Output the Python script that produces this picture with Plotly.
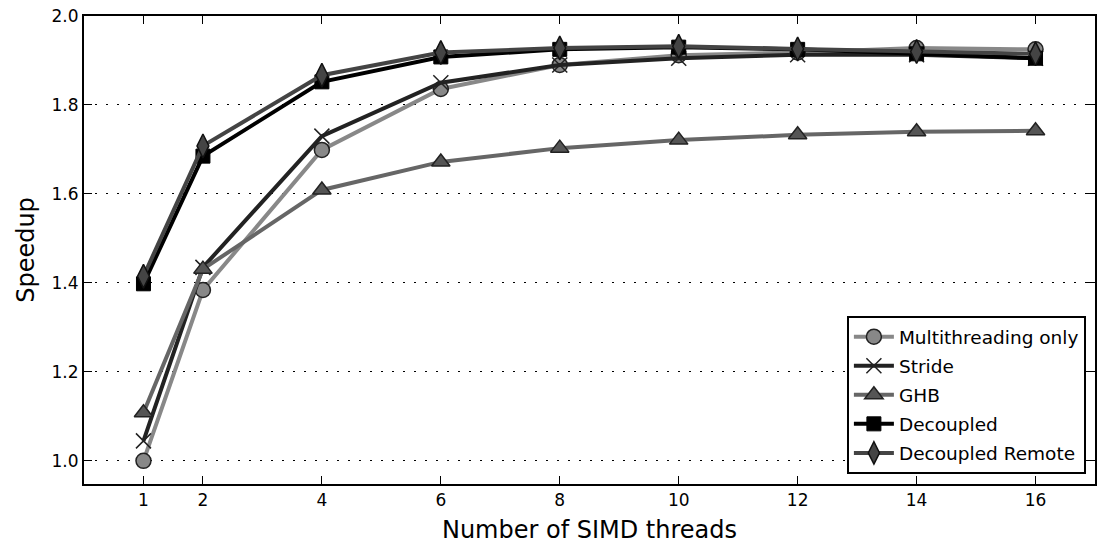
import plotly.graph_objects as go

threads = [1, 2, 4, 6, 8, 10, 12, 14, 16]
x_tick_labels = ["1", "2", "4", "6", "8", "10", "12", "14", "16"]
y_ticks = [1.0, 1.2, 1.4, 1.6, 1.8, 2.0]
y_tick_labels = ["1.0", "1.2", "1.4", "1.6", "1.8", "2.0"]

multithreading_only = [1.00, 1.384, 1.699, 1.836, 1.890, 1.912, 1.918, 1.928, 1.925]
stride = [1.045, 1.435, 1.730, 1.850, 1.890, 1.905, 1.913, 1.913, 1.905]
ghb = [1.108, 1.431, 1.609, 1.672, 1.703, 1.721, 1.733, 1.740, 1.742]
decoupled = [1.398, 1.685, 1.852, 1.908, 1.925, 1.930, 1.925, 1.915, 1.905]
decoupled_remote = [1.415, 1.708, 1.867, 1.918, 1.928, 1.932, 1.926, 1.920, 1.915]

series = [
    ("Multithreading only", multithreading_only, "#888888", "circle", "#888888", "#222222", 1.5, 15),
    ("Stride", stride, "#222222", "x-thin", "#222222", "#222222", 1.5, 15),
    ("GHB", ghb, "#666666", "triangle-up", "#555555", "#222222", 1.5, 16),
    ("Decoupled", decoupled, "#000000", "square", "#000000", "#000000", 1, 14),
    ("Decoupled Remote", decoupled_remote, "#444444", "diamond-tall", "#444444", "#111111", 1.5, 17),
]

fig = go.Figure()
for i, (name, vals, lc, sym, fc, mlc, mlw, ms) in enumerate(series):
    fig.add_trace(go.Scatter(
        x=threads, y=vals, name=name, mode="lines+markers", legendgroup=f"g{i}",
        line=dict(color=lc, width=4),
        marker=dict(symbol=sym, size=ms, color=fc, line=dict(color=mlc, width=mlw)),
    ))

fig.update_layout(
    width=1098, height=544,
    margin=dict(l=84, r=1, t=16, b=60),
    plot_bgcolor="white", paper_bgcolor="white",
    font=dict(family="DejaVu Sans", color="black", size=17),
    legend=dict(
        x=0.991, y=0.021, xanchor="right", yanchor="bottom",
        bordercolor="black", borderwidth=2, bgcolor="white",
        font=dict(size=18.5), itemwidth=40, tracegroupgap=2,
    ),
    showlegend=True,
)
fig.update_xaxes(
    range=[0, 17], tickvals=threads, ticktext=x_tick_labels,
    ticks="inside", ticklen=8, tickwidth=1, tickcolor="black",
    showline=True, linecolor="black", linewidth=2, mirror="ticks",
    showgrid=False, zeroline=False,
    title=dict(text="Number of SIMD threads", font=dict(size=24), standoff=12),
    tickfont=dict(size=17),
)
fig.update_yaxes(
    range=[0.948, 2.0], tickvals=y_ticks, ticktext=y_tick_labels,
    ticks="inside", ticklen=8, tickwidth=1, tickcolor="black",
    showline=True, linecolor="black", linewidth=2, mirror="ticks",
    showgrid=True, gridcolor="black", gridwidth=1, griddash="2px,9px",
    zeroline=False,
    title=dict(text="Speedup", font=dict(size=24), standoff=10),
    tickfont=dict(size=17),
)

fig.write_html("out.html")
